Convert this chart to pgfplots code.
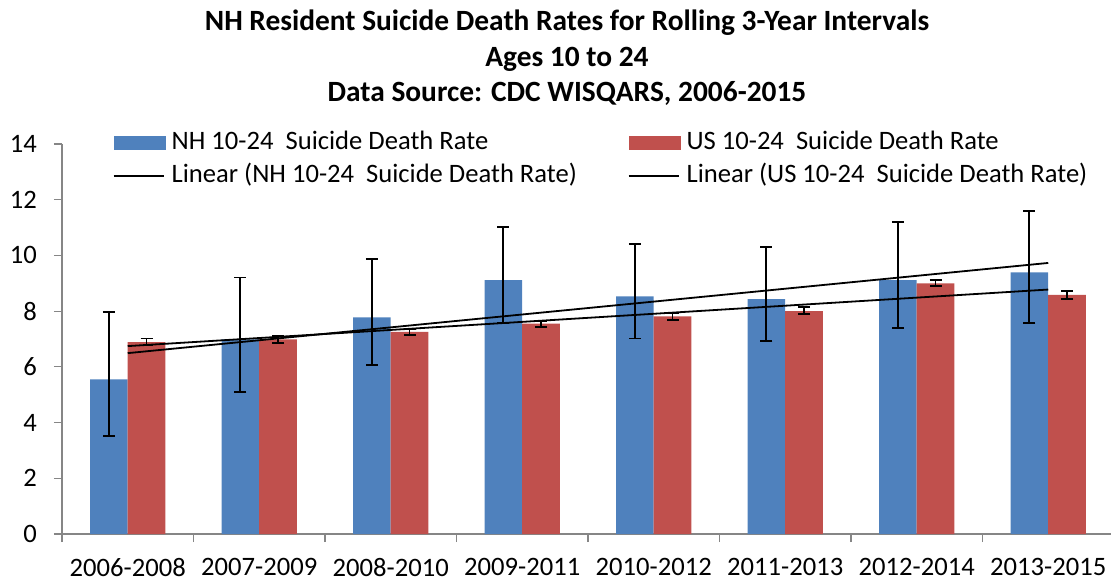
\documentclass[border=0pt]{standalone}
\usepackage{pgfplots}
\usepackage{pgfplotstable}
\pgfplotsset{compat=1.18}
\usepackage{fontspec}
\setmainfont{Carlito}
\definecolor{nhblue}{HTML}{4F81BD}
\definecolor{usred}{HTML}{C0504D}
\definecolor{axgray}{HTML}{868686}

\pgfplotstableread{
x nh nhp nhm us usp usm
0 5.55 2.42 2.04 6.89 0.13 0.12
1 6.99 2.22 1.88 6.99 0.13 0.12
2 7.78 2.10 1.71 7.26 0.11 0.13
3 9.11 1.91 1.53 7.55 0.09 0.13
4 8.53 1.88 1.51 7.81 0.11 0.12
5 8.43 1.88 1.50 8.00 0.14 0.11
6 9.11 2.09 1.72 9.00 0.13 0.11
7 9.39 2.21 1.81 8.58 0.14 0.15
}\data

\begin{document}
\begin{tikzpicture}
\useasboundingbox (-31pt,-24.5pt) rectangle (524.5pt,267pt);
\begin{axis}[
  scale only axis, width=526pt, height=195pt,
  xmin=-0.5, xmax=7.5, ymin=0, ymax=14,
  ytick={0,2,...,14},
  xtick={-0.5,0.5,...,7.5}, xticklabels={},
  extra x ticks={0,1,2,3,4,5,6,7},
  extra x tick labels={2006-2008,2007-2009,2008-2010,2009-2011,2010-2012,2011-2013,2012-2014,2013-2015},
  extra x tick style={major tick length=0pt, xticklabel style={yshift=-8.5pt}},
  axis x line*=bottom, axis y line*=left,
  axis line style={draw=axgray, line width=0.6pt},
  tick style={draw=axgray, line width=0.6pt},
  tick align=outside, major tick length=4pt,
  /pgf/number format/assume math mode=true,
  ticklabel style={font=\fontsize{13.3}{15}\selectfont},
  yticklabel style={xshift=-5pt},
  clip=false,
  legend columns=2,
  legend cell align=left,
  legend style={draw=none, fill=none, at={(0.0485,1.033)}, anchor=north west,
    inner sep=0pt, outer sep=0pt, font=\fontsize{13.3}{15}\selectfont,
    row sep=4.5pt, column sep=0pt,
    /tikz/every even column/.append style={column sep=22.5pt},
    nodes={inner xsep=3pt, inner ysep=0pt, text height=9pt, text depth=3pt}},
]
\addplot[ybar, bar width=18.85pt, bar shift=-9.425pt, fill=nhblue, draw=none,
  legend image code/.code={\fill[nhblue] (0pt,-3.5pt) rectangle (26pt,3.5pt);},
  error bars/.cd, y dir=both, y explicit,
  error bar style={black, line width=0.9pt, xshift=-9.425pt},
  error mark options={rotate=90, mark size=3pt, line width=0.9pt, black}]
  table[x=x, y=nh, y error plus=nhp, y error minus=nhm]{\data};
\addlegendentry{NH 10-24\ \ Suicide Death Rate}
\addplot[ybar, bar width=18.85pt, bar shift=9.425pt, fill=usred, draw=none,
  legend image code/.code={\fill[usred] (0pt,-3.5pt) rectangle (26pt,3.5pt);},
  error bars/.cd, y dir=both, y explicit,
  error bar style={black, line width=0.9pt, xshift=9.425pt},
  error mark options={rotate=90, mark size=3pt, line width=0.9pt, black}]
  table[x=x, y=us, y error plus=usp, y error minus=usm]{\data};
\addlegendentry{US 10-24\ \ Suicide Death Rate}
\addplot[sharp plot, black, line width=0.9pt, mark=none,
  legend image code/.code={\draw[black, line width=0.7pt] (0pt,0pt) -- (25pt,0pt);}]
  table[x=x, y={create col/linear regression={y=nh}}]{\data};
\addlegendentry{Linear (NH 10-24\ \ Suicide Death Rate)}
\addplot[sharp plot, black, line width=0.9pt, mark=none,
  legend image code/.code={\draw[black, line width=0.7pt] (0pt,0pt) -- (25pt,0pt);}]
  table[x=x, y={create col/linear regression={y=us}}]{\data};
\addlegendentry{Linear (US 10-24\ \ Suicide Death Rate)}
\end{axis}
\node[anchor=base, font=\fontsize{14.7}{17}\selectfont\bfseries] at (252.5pt,251.6pt) {NH Resident Suicide Death Rates for Rolling 3-Year Intervals};
\node[anchor=base, font=\fontsize{14.7}{17}\selectfont\bfseries] at (252.5pt,233.75pt) {Ages 10 to 24};
\node[anchor=base, font=\fontsize{14.7}{17}\selectfont\bfseries] at (252.5pt,216.25pt) {Data Source: CDC WISQARS, 2006-2015};
\end{tikzpicture}
\end{document}
